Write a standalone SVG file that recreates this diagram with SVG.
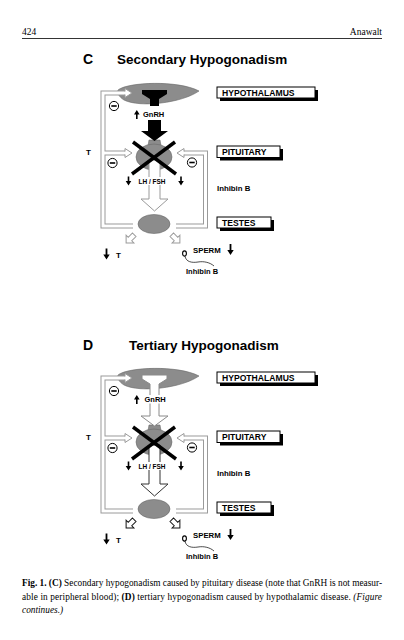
<svg xmlns="http://www.w3.org/2000/svg" xmlns:xlink="http://www.w3.org/1999/xlink" width="404" height="640" viewBox="0 0 404 640">
<defs>
<style>
.sans{font-family:"Liberation Sans",Arial,Helvetica,sans-serif;font-weight:bold;fill:#000}
.serif{font-family:"Liberation Serif","Times New Roman",serif;fill:#000}
.organ{fill:#8c8c8c;stroke:#6a6a6a;stroke-width:0.6}
.pipeO{fill:none;stroke:#9a9a9a;stroke-width:5;stroke-linejoin:miter}
.pipeI{fill:none;stroke:#fff;stroke-width:3;stroke-linejoin:miter}
.phead{fill:#fff;stroke:#9a9a9a;stroke-width:1;stroke-linejoin:miter}
.box{fill:#fff;stroke:#000;stroke-width:1}
.shadow{fill:#000}
.minus circle{fill:#fff;stroke:#000;stroke-width:1}
.minus line{stroke:#000;stroke-width:1.6}
.xcross{stroke:#000;stroke-width:3.5;stroke-linecap:butt}
</style>
<path id="arr" d="M-0.8,-4.5 H0.8 V0 H2.8 L0,4.5 L-2.8,0 H-0.8 Z" fill="#000"/>
<path id="arrBig" d="M-0.9,-5.5 H0.9 V0.5 H3.2 L0,5.5 L-3.2,0.5 H-0.9 Z" fill="#000"/>
<polygon id="blk" points="-2.5,-6 2.5,-6 2.5,0 5.5,0 0,5.5 -5.5,0 -2.5,0"/>
<g id="minusSym" class="minus"><circle r="4.6"/><line x1="-2.7" y1="0" x2="2.7" y2="0"/></g>
</defs>
<rect width="404" height="640" fill="#fff"/>

<!-- page header -->
<g id="header">
<text class="serif" x="22" y="35" font-size="9.5">424</text>
<text class="serif" x="382" y="35" font-size="9.5" text-anchor="end">Anawalt</text>
<line x1="22" y1="38.5" x2="382" y2="38.5" stroke="#000" stroke-width="0.8"/>
</g>

<!-- ================= PANEL C ================= -->
<g id="panelC">
<text class="sans" x="83" y="64" font-size="14">C</text>
<text class="sans" x="117" y="64" font-size="13.5">Secondary Hypogonadism</text>

<g id="c-hypothalamus">
<path class="organ" d="M118 90 C128 82,178 80,199 91 C182 103,140 108,124 100 C119 97,117 93,118 90 Z"/>
<path d="M142 90 H167 V94 L159 99 V106 H150 V99 L142 94 Z" fill="#000"/>
<rect class="shadow" x="220" y="90" width="98" height="11"/>
<rect class="box" x="217" y="87" width="98" height="11"/>
<text class="sans" x="222" y="95.6" font-size="8.6">HYPOTHALAMUS</text>
</g>

<g id="c-pituitary">
<path class="organ" d="M148 146 L149 140 H160 L161 146 Z"/>
<ellipse class="organ" cx="154" cy="157" rx="18" ry="13"/>
<rect class="shadow" x="220" y="149" width="63" height="11.5"/>
<rect class="box" x="217" y="146" width="63" height="11.5"/>
<text class="sans" x="222" y="155" font-size="8.6">PITUITARY</text>
<text class="sans" x="217" y="190.5" font-size="7.8">Inhibin B</text>
</g>

<g id="c-testes">
<ellipse class="organ" cx="154" cy="224" rx="16" ry="9.5"/>
<rect class="shadow" x="220" y="220" width="54" height="11"/>
<rect class="box" x="217" y="217" width="54" height="11"/>
<text class="sans" x="222" y="225.8" font-size="8.6">TESTES</text>
</g>

<g id="c-connectors">
<path class="pipeO" d="M133 226 H103 V93 H125 M103 153 H125 M176 226 H205.5 V153 H184"/>
<path class="pipeI" d="M133 226 H103 V93 H126 M103 153 H126 M176 226 H205.5 V153 H183"/>
<polyline class="phead" points="125,91.5 125,88.5 132,93 125,97.5 125,94.5"/>
<polyline class="phead" points="125,151.5 125,148.5 132,153 125,157.5 125,154.5"/>
<polyline class="phead" points="184,151.5 184,148.5 177,153 184,157.5 184,154.5"/>
<!-- GnRH (black) -->
<path d="M148 120 H161 V131 H168 L154.5 141 L141 131 H148 Z" fill="#000"/>
<!-- LH/FSH open arrow -->
<path d="M149 160 H160 V199 H168 L154.5 211 L141 199 H149 Z" fill="#fff" stroke="#9a9a9a" stroke-width="1"/>
<!-- outputs -->
<use xlink:href="#blk" href="#blk" transform="translate(130,239) rotate(45)" fill="#fff" stroke="#9a9a9a" stroke-width="1"/>
<use xlink:href="#blk" href="#blk" transform="translate(176,239) rotate(-45)" fill="#fff" stroke="#9a9a9a" stroke-width="1"/>
</g>

<g id="c-block">
<line class="xcross" x1="133" y1="142" x2="176" y2="174"/>
<line class="xcross" x1="175" y1="142" x2="132" y2="174"/>
</g>

<g id="c-labels">
<use xlink:href="#minusSym" href="#minusSym" x="114" y="106"/>
<use xlink:href="#minusSym" href="#minusSym" x="112.5" y="163"/>
<use xlink:href="#minusSym" href="#minusSym" x="192" y="162.5"/>
<text class="sans" x="86" y="155" font-size="8">T</text>
<use xlink:href="#arr" href="#arr" transform="translate(136.8,114.5) rotate(180)"/>
<text class="sans" x="143" y="117.3" font-size="7.5">GnRH</text>
<rect x="138" y="177" width="28" height="8" fill="#fff"/>
<text class="sans" x="138.5" y="183.7" font-size="7" textLength="27" lengthAdjust="spacingAndGlyphs">LH / FSH</text>
<use xlink:href="#arr" href="#arr" x="128.5" y="181"/>
<use xlink:href="#arr" href="#arr" x="181" y="181"/>
<use xlink:href="#arrBig" href="#arrBig" x="106.5" y="254"/>
<text class="sans" x="116" y="257.5" font-size="8">T</text>
<text class="sans" x="193" y="253" font-size="7.8">SPERM</text>
<use xlink:href="#arrBig" href="#arrBig" x="230.5" y="249.5"/>
<g id="c-sperm">
<ellipse cx="184.5" cy="253.5" rx="1.9" ry="2.6" fill="none" stroke="#000" stroke-width="1.1"/>
<path d="M185 256.2 C186 262,192 263,198 262 S210 262.5,214 266" fill="none" stroke="#000" stroke-width="0.7"/>
</g>
<text class="sans" x="186" y="274" font-size="7.5">Inhibin B</text>
</g>
</g>

<!-- ================= PANEL D ================= -->
<g id="panelD">
<text class="sans" x="83" y="350" font-size="14">D</text>
<text class="sans" x="129" y="350" font-size="13.5">Tertiary Hypogonadism</text>
<g transform="translate(0,285)">
<g id="d-hypothalamus">
<path class="organ" d="M118 90 C128 82,178 80,199 91 C182 103,140 108,124 100 C119 97,117 93,118 90 Z"/>
<rect class="shadow" x="220" y="90" width="98" height="11"/>
<rect class="box" x="217" y="87" width="98" height="11"/>
<text class="sans" x="222" y="95.6" font-size="8.6">HYPOTHALAMUS</text>
</g>

<g id="d-pituitary">
<path class="organ" d="M148 146 L149 140 H160 L161 146 Z"/>
<ellipse class="organ" cx="154" cy="157" rx="18" ry="13"/>
<rect class="shadow" x="220" y="149" width="63" height="11.5"/>
<rect class="box" x="217" y="146" width="63" height="11.5"/>
<text class="sans" x="222" y="155" font-size="8.6">PITUITARY</text>
<text class="sans" x="217" y="190.5" font-size="7.8">Inhibin B</text>
</g>

<g id="d-testes">
<ellipse class="organ" cx="154" cy="224" rx="16" ry="9.5"/>
<rect class="shadow" x="220" y="220" width="54" height="11"/>
<rect class="box" x="217" y="217" width="54" height="11"/>
<text class="sans" x="222" y="225.8" font-size="8.6">TESTES</text>
</g>

<g id="d-connectors">
<path class="pipeO" d="M133 226 H103 V93 H125 M103 153 H125 M176 226 H205.5 V153 H184"/>
<path class="pipeI" d="M133 226 H103 V93 H126 M103 153 H126 M176 226 H205.5 V153 H183"/>
<polyline class="phead" points="125,91.5 125,88.5 132,93 125,97.5 125,94.5"/>
<polyline class="phead" points="125,151.5 125,148.5 132,153 125,157.5 125,154.5"/>
<polyline class="phead" points="184,151.5 184,148.5 177,153 184,157.5 184,154.5"/>
<!-- GnRH (open, reduced) -->
<path d="M142 90 H167 V94 L159 99 V131 H168 L154.5 141 L141 131 H150 V99 L142 94 Z" fill="#fff" stroke="#8a8a8a" stroke-width="1"/>
<!-- LH/FSH open arrow -->
<path d="M149 160 H160 V199 H168 L154.5 211 L141 199 H149 Z" fill="#fff" stroke="#333" stroke-width="1"/>
<use xlink:href="#blk" href="#blk" transform="translate(130,239) rotate(45)" fill="#fff" stroke="#111" stroke-width="1"/>
<use xlink:href="#blk" href="#blk" transform="translate(176,239) rotate(-45)" fill="#fff" stroke="#111" stroke-width="1"/>
</g>

<g id="d-block">
<line class="xcross" x1="133" y1="142" x2="176" y2="174"/>
<line class="xcross" x1="175" y1="142" x2="132" y2="174"/>
</g>

<g id="d-labels">
<use xlink:href="#minusSym" href="#minusSym" x="114" y="106"/>
<use xlink:href="#minusSym" href="#minusSym" x="112.5" y="163"/>
<use xlink:href="#minusSym" href="#minusSym" x="192" y="162.5"/>
<text class="sans" x="86" y="155" font-size="8">T</text>
<use xlink:href="#arr" href="#arr" transform="translate(136.8,114.5) rotate(180)"/>
<rect x="144" y="110" width="22" height="8.5" fill="#fff"/>
<text class="sans" x="144.5" y="117.3" font-size="7.5">GnRH</text>
<rect x="138" y="177" width="28" height="8" fill="#fff"/>
<text class="sans" x="138.5" y="183.7" font-size="7" textLength="27" lengthAdjust="spacingAndGlyphs">LH / FSH</text>
<use xlink:href="#arr" href="#arr" x="128.5" y="181"/>
<use xlink:href="#arr" href="#arr" x="181" y="181"/>
<use xlink:href="#arrBig" href="#arrBig" x="106.5" y="254"/>
<text class="sans" x="116" y="257.5" font-size="8">T</text>
<text class="sans" x="193" y="253" font-size="7.8">SPERM</text>
<use xlink:href="#arrBig" href="#arrBig" x="230.5" y="249.5"/>
<g id="d-sperm">
<ellipse cx="184.5" cy="253.5" rx="1.9" ry="2.6" fill="none" stroke="#000" stroke-width="1.1"/>
<path d="M185 256.2 C186 262,192 263,198 262 S210 262.5,214 266" fill="none" stroke="#000" stroke-width="0.7"/>
</g>
<text class="sans" x="186" y="274" font-size="7.5">Inhibin B</text>
</g>
</g>
</g>

<!-- caption -->
<g id="caption">
<text class="serif" x="22" y="586" font-size="9.3" textLength="360" lengthAdjust="spacing"><tspan font-weight="bold">Fig. 1. (C)</tspan> Secondary hypogonadism caused by pituitary disease (note that GnRH is not measur-</text>
<text class="serif" x="22" y="599.5" font-size="9.3" textLength="360" lengthAdjust="spacing">able in peripheral blood); <tspan font-weight="bold">(D)</tspan> tertiary hypogonadism caused by hypothalamic disease. <tspan font-style="italic">(Figure</tspan></text>
<text class="serif" x="22" y="613" font-size="9.3" font-style="italic">continues.)</text>
</g>
</svg>
